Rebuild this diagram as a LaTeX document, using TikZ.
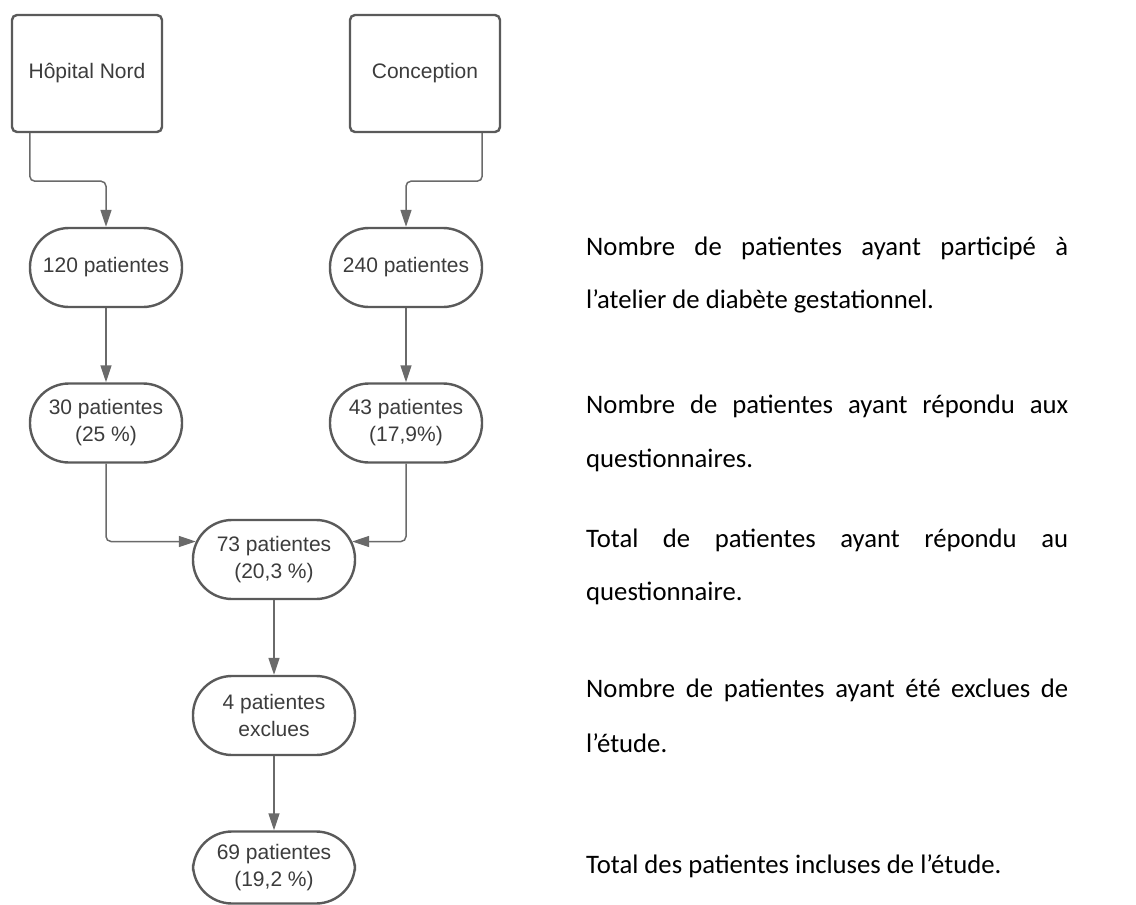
\documentclass[tikz,border=0pt]{standalone}
\usepackage{fontspec}
\setmainfont{Liberation Sans}
\newfontfamily\calib{Carlito}
\usetikzlibrary{arrows.meta}
\definecolor{boxline}{HTML}{5A5A5A}
\definecolor{connline}{HTML}{6A6A6A}
\definecolor{boxtext}{HTML}{3C3C3C}
\tikzset{
  srcbox/.style={draw=boxline, line width=2.4pt, rounded corners=5pt, minimum width=150pt, minimum height=117pt, inner sep=0pt, text=boxtext, font=\fontsize{21}{27}\selectfont},
  stadium/.style={draw=boxline, line width=2.4pt, rounded corners=39pt, minimum width=#1, minimum height=79pt, inner sep=0pt, text=boxtext, align=center, font=\fontsize{21}{27}\selectfont},
  stadium/.default=152pt,
  conn/.style={draw=connline, line width=1.5pt, rounded corners=5pt, -{Triangle[length=17pt,width=11pt]}},
  desc/.style={anchor=base west, inner sep=0pt, text=black, font=\calib\fontsize{26.7}{30}\selectfont},
}
\begin{document}
\begin{tikzpicture}[x=1pt,y=-1pt]
\useasboundingbox (0,0) rectangle (1136,905);
\node[srcbox] (hop) at (87,73.5) {Hôpital Nord};
\node[srcbox] (con) at (425,73.5) {Conception};
\node[stadium] (n120) at (106,267.5) {120 patientes};
\node[stadium] (n240) at (406,267.5) {240 patientes};
\node[stadium] (n30) at (106,423) {30 patientes\\(25 \%)};
\node[stadium] (n43) at (406,423) {43 patientes\\(17,9\%)};
\node[stadium=162pt] (n73) at (274,559.5) {73 patientes\\(20,3 \%)};
\node[stadium=162pt] (n4) at (274,715.5) {4 patientes\\exclues};
\node[stadium=162pt, minimum height=72pt] (n69) at (274,867.5) {69 patientes\\(19,2 \%)};

\draw[conn] ([xshift=19pt]hop.south west) -- ++(0,48) -| (n120.north);
\draw[conn] ([xshift=-19pt]con.south east) -- ++(0,48) -| (n240.north);
\draw[conn] (n120.south) -- (n30.north);
\draw[conn] (n240.south) -- (n43.north);
\draw[conn] (n30.south) |- ([xshift=4pt,yshift=18pt]n73.west);
\draw[conn] (n43.south) |- ([xshift=-4pt,yshift=18pt]n73.east);
\draw[conn] (n73.south) -- (n4.north);
\draw[conn] (n4.south) -- (n69.north);

\node[desc] (d1a) at (586,255) {\makebox[482pt][s]{Nombre de patientes ayant participé à}};
\node[desc] (d1b) at (586,308) {l’atelier de diabète gestationnel.};
\node[desc] (d2a) at (586,413) {\makebox[482pt][s]{Nombre de patientes ayant répondu aux}};
\node[desc] (d2b) at (586,467) {questionnaires.};
\node[desc] (d3a) at (586,547) {\makebox[482pt][s]{Total de patientes ayant répondu au}};
\node[desc] (d3b) at (586,600) {questionnaire.};
\node[desc] (d4a) at (586,697) {\makebox[482pt][s]{Nombre de patientes ayant été exclues de}};
\node[desc] (d4b) at (586,752) {l’étude.};
\node[desc] (d5) at (586,873) {Total des patientes incluses de l’étude.};
\end{tikzpicture}
\end{document}
